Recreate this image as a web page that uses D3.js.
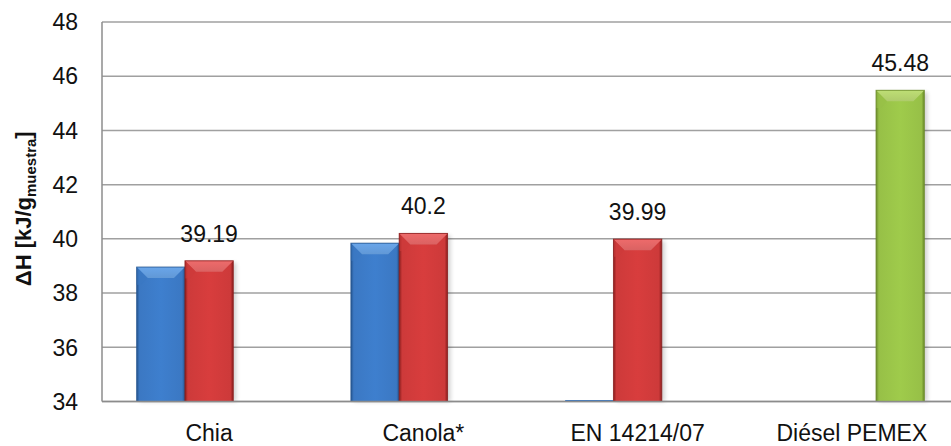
<!DOCTYPE html>
<html>
<head>
<meta charset="utf-8">
<script src="https://cdn.jsdelivr.net/npm/d3@7"></script>
<style>
  html, body { margin: 0; padding: 0; background: #fff; }
  svg { display: block; font-family: "Liberation Sans", Arial, sans-serif; }
</style>
</head>
<body>
<svg id="chart" width="951" height="446"></svg>
<script>
// Heat of combustion per fuel sample
const categories = ["Chia", "Canola*", "EN 14214/07", "Diésel PEMEX"];
const seriesNames = ["experimental", "reportado", "referencia"];
const experimental = [38.96, 39.84, 34.0, null];
const reportado = [39.19, 40.2, 39.99, null];
const referencia = [null, null, null, 45.48];
const yTicks = [34, 36, 38, 40, 42, 44, 46, 48];
const labelled = ["reportado", "referencia"];

const seriesData = { experimental, reportado, referencia };

const palette = {
  experimental: { base: "#3b78c3", light: "#6aa6ea", dark: "#25558f" },
  reportado:    { base: "#cd3a3a", light: "#ee6b6b", dark: "#8a1d1d" },
  referencia:   { base: "#97c047", light: "#bede75", dark: "#6a8a2a" }
};

const svg = d3.select("#chart");
const plot = { left: 102, right: 959, top: 22, bottom: 401.5 };

const x0 = d3.scaleBand()
  .domain(categories)
  .range([plot.left, plot.right])
  .paddingInner(0.3235)
  .paddingOuter(0.3235 / 2);

const x1 = d3.scaleBand()
  .domain(seriesNames)
  .range([0, x0.bandwidth()]);

const y = d3.scaleLinear().domain([34, 48]).range([plot.bottom, plot.top]);

// Gradients for the bevelled bar look
const defs = svg.append("defs");
seriesNames.forEach(s => {
  const c = palette[s];
  const body = defs.append("linearGradient").attr("id", "body-" + s)
    .attr("x1", 0).attr("x2", 1).attr("y1", 0).attr("y2", 0);
  body.append("stop").attr("offset", "0%").attr("stop-color", c.dark);
  body.append("stop").attr("offset", "6%").attr("stop-color", c.base);
  body.append("stop").attr("offset", "50%").attr("stop-color", d3.color(c.base).brighter(0.15));
  body.append("stop").attr("offset", "94%").attr("stop-color", c.base);
  body.append("stop").attr("offset", "100%").attr("stop-color", c.dark);
  const top = defs.append("linearGradient").attr("id", "top-" + s)
    .attr("x1", 0).attr("x2", 0).attr("y1", 0).attr("y2", 1);
  top.append("stop").attr("offset", "0%").attr("stop-color", c.light);
  top.append("stop").attr("offset", "100%").attr("stop-color", d3.color(c.light).darker(0.25));
});
const blur = defs.append("filter").attr("id", "shadow").attr("x", "-20%").attr("y", "-20%").attr("width", "140%").attr("height", "140%");
blur.append("feGaussianBlur").attr("stdDeviation", 2);

// Horizontal grid lines
svg.append("g")
  .selectAll("line")
  .data(yTicks)
  .join("line")
  .attr("x1", plot.left).attr("x2", 951)
  .attr("y1", d => y(d)).attr("y2", d => y(d))
  .attr("stroke", "#a0a0a0")
  .attr("stroke-width", 1.5);

// Y axis line
svg.append("line")
  .attr("x1", plot.left).attr("x2", plot.left)
  .attr("y1", plot.top).attr("y2", plot.bottom)
  .attr("stroke", "#8c8c8c").attr("stroke-width", 1.5);

// Y tick labels
svg.append("g")
  .selectAll("text")
  .data(yTicks)
  .join("text")
  .attr("x", 78)
  .attr("y", d => y(d))
  .attr("dy", "0.36em")
  .attr("text-anchor", "end")
  .attr("font-size", 23)
  .attr("fill", "#111")
  .text(d => d);

// Flatten the bar records
const bars = [];
categories.forEach((c, i) => {
  seriesNames.forEach(s => {
    const v = seriesData[s][i];
    if (v !== null && v !== undefined) bars.push({ category: c, series: s, value: v });
  });
});

const bw = x1.bandwidth();
const bevel = 11;
const g = svg.append("g");

bars.forEach(d => {
  const bx = x0(d.category) + x1(d.series);
  const by = y(d.value);
  const h = Math.max(plot.bottom - by, 1.5);
  const top = plot.bottom - h;
  const c = palette[d.series];
  const b = Math.min(bevel, h / 2);

  // soft drop shadow
  if (h > 4) {
    g.append("rect")
      .attr("x", bx + 3).attr("y", top + 2)
      .attr("width", bw).attr("height", h - 2)
      .attr("fill", "#000").attr("opacity", 0.18)
      .attr("filter", "url(#shadow)");
  }
  g.append("rect")
    .attr("x", bx).attr("y", top)
    .attr("width", bw).attr("height", h)
    .attr("fill", h > 4 ? `url(#body-${d.series})` : c.base);
  if (h > 4) {
    // bevelled top face
    g.append("polygon")
      .attr("points", [[bx, top], [bx + bw, top], [bx + bw - b, top + b], [bx + b, top + b]].map(p => p.join(",")).join(" "))
      .attr("fill", `url(#top-${d.series})`);
    g.append("polygon")
      .attr("points", [[bx, top], [bx + b, top + b], [bx + b * 0.4, top + b * 1.6], [bx, top + b * 1.6]].map(p => p.join(",")).join(" "))
      .attr("fill", c.base).attr("opacity", 0.6);
    g.append("rect")
      .attr("x", bx).attr("y", top)
      .attr("width", bw).attr("height", h)
      .attr("fill", "none")
      .attr("stroke", c.dark).attr("stroke-width", 1).attr("opacity", 0.8);
  }
});

// Value labels
g.selectAll("text.value")
  .data(bars.filter(d => labelled.includes(d.series)))
  .join("text")
  .attr("class", "value")
  .attr("x", d => x0(d.category) + x1(d.series) + bw / 2)
  .attr("y", d => y(d.value) - 19)
  .attr("text-anchor", "middle")
  .attr("font-size", 23)
  .attr("fill", "#111")
  .text(d => d.value);

// Baseline
svg.append("line")
  .attr("x1", plot.left).attr("x2", 951)
  .attr("y1", plot.bottom).attr("y2", plot.bottom)
  .attr("stroke", "#8c8c8c").attr("stroke-width", 1.5);

// Category labels
svg.append("g")
  .selectAll("text")
  .data(categories)
  .join("text")
  .attr("x", d => x0(d) + x0.bandwidth() / 2)
  .attr("y", 441)
  .attr("text-anchor", "middle")
  .attr("font-size", 23)
  .attr("fill", "#111")
  .text(d => d);

// Y axis title with subscript
const title = svg.append("text")
  .attr("transform", `translate(31,${(plot.top + plot.bottom) / 2 - 3}) rotate(-90)`)
  .attr("text-anchor", "middle")
  .attr("font-size", 22)
  .attr("font-weight", "bold")
  .attr("fill", "#111");
title.append("tspan").text("ΔH [kJ/g");
title.append("tspan").attr("font-size", 15).attr("dy", 5).text("muestra");
title.append("tspan").attr("dy", -5).text("]");
</script>
</body>
</html>
